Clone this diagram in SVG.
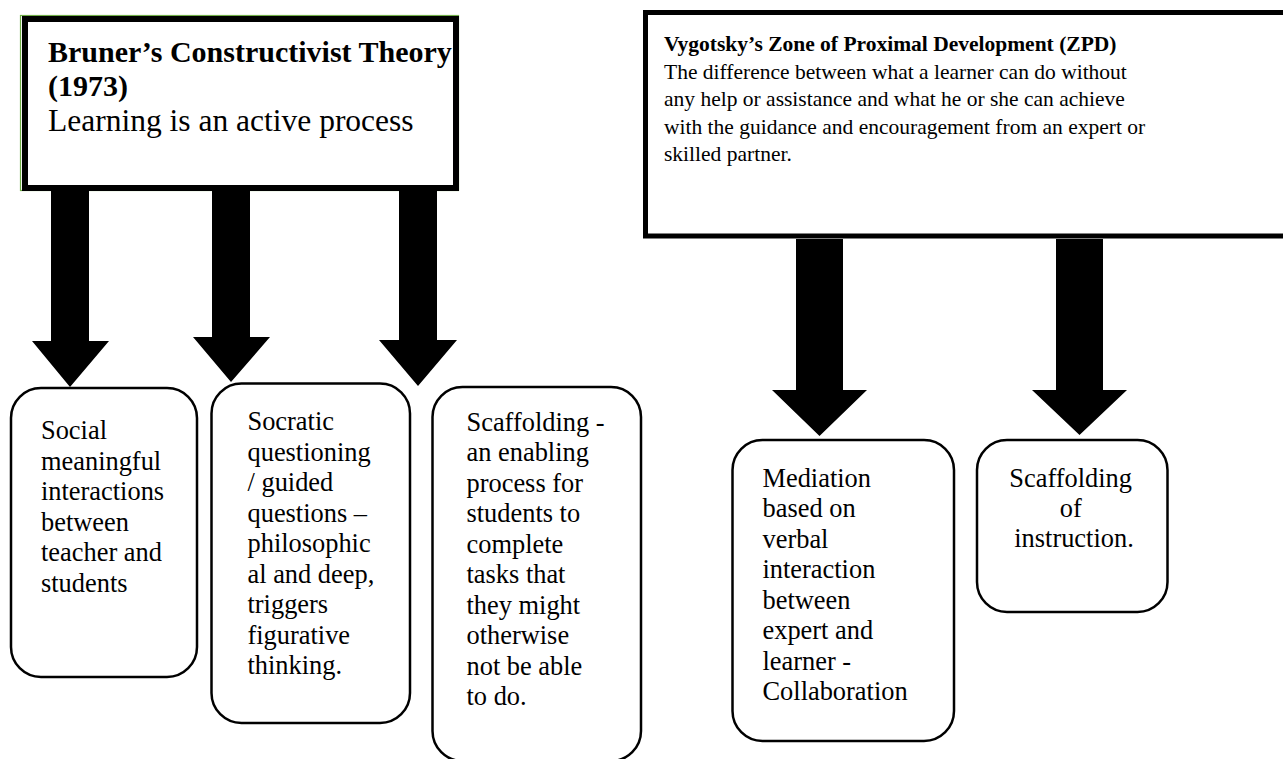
<svg xmlns="http://www.w3.org/2000/svg" width="1283" height="759" viewBox="0 0 1283 759">
<style>
  .t { font-family: "Liberation Serif", "Times New Roman", serif; fill: #000; }
  .b { font-weight: bold; }
  .box { fill: #fff; stroke: #000; stroke-width: 2.5; }
  .arrow { fill: #000; stroke: none; }
  .bx { font-size: 26.4px; }
</style>
<rect width="1283" height="759" fill="#fff"/>

<g id="bruner">
  <rect x="20.5" y="15.5" width="438" height="175" fill="#fff" stroke="#70ad47" stroke-width="1.2"/>
  <rect x="25" y="19" width="431" height="169" fill="none" stroke="#000" stroke-width="6"/>
  <text class="t b" font-size="30" x="48" y="62">Bruner’s Constructivist Theory</text>
  <text class="t b" font-size="30" x="48" y="96">(1973)</text>
  <text class="t" font-size="31.5" x="48" y="131">Learning is an active process</text>
</g>

<g id="vygotsky">
  <rect x="645.5" y="12.5" width="650" height="223.5" fill="#fff" stroke="#000" stroke-width="5"/>
  <text class="t b" font-size="21.5" x="664" y="51">Vygotsky’s Zone of Proximal Development (ZPD)</text>
  <text class="t" font-size="21.5" x="664">
    <tspan x="664" y="78.5">The difference between what a learner can do without</tspan>
    <tspan x="664" y="106">any help or assistance and what he or she can achieve</tspan>
    <tspan x="664" y="133.5">with the guidance and encouragement from an expert or</tspan>
    <tspan x="664" y="161">skilled partner.</tspan>
  </text>
</g>

<g id="connectors">
  <polygon class="arrow" points="51,191 89,191 89,341 109,341 70,387 32,341 51,341"/>
  <polygon class="arrow" points="212,190 250,190 250,337 270,337 231,382 193,337 212,337"/>
  <polygon class="arrow" points="399,190 437,190 437,340 457,340 418,386 379,340 399,340"/>
  <polygon class="arrow" points="796,239 843,239 843,390 867,390 819.5,436 772,390 796,390"/>
  <polygon class="arrow" points="1056,239 1103,239 1103,390 1127,390 1079.5,435 1032,390 1056,390"/>
</g>

<g id="box-social">
  <rect class="box" x="11" y="388" width="186" height="289" rx="30" ry="30"/>
  <text class="t bx">
    <tspan x="41" y="439">Social</tspan>
    <tspan x="41" y="469.5">meaningful</tspan>
    <tspan x="41" y="500">interactions</tspan>
    <tspan x="41" y="530.5">between</tspan>
    <tspan x="41" y="561">teacher and</tspan>
    <tspan x="41" y="591.5">students</tspan>
  </text>
</g>

<g id="box-socratic">
  <rect class="box" x="211.5" y="383.5" width="198.5" height="339.5" rx="30" ry="30"/>
  <text class="t bx">
    <tspan x="247.5" y="430">Socratic</tspan>
    <tspan x="247.5" y="460.5">questioning</tspan>
    <tspan x="247.5" y="491">/ guided</tspan>
    <tspan x="247.5" y="521.5">questions –</tspan>
    <tspan x="247.5" y="552">philosophic</tspan>
    <tspan x="247.5" y="582.5">al and deep,</tspan>
    <tspan x="247.5" y="613">triggers</tspan>
    <tspan x="247.5" y="643.5">figurative</tspan>
    <tspan x="247.5" y="674">thinking.</tspan>
  </text>
</g>

<g id="box-scaffolding">
  <rect class="box" x="432.5" y="387" width="208.5" height="374" rx="30" ry="30"/>
  <text class="t bx">
    <tspan x="466.5" y="430.5">Scaffolding -</tspan>
    <tspan x="466.5" y="461">an enabling</tspan>
    <tspan x="466.5" y="491.5">process for</tspan>
    <tspan x="466.5" y="522">students to</tspan>
    <tspan x="466.5" y="552.5">complete</tspan>
    <tspan x="466.5" y="583">tasks that</tspan>
    <tspan x="466.5" y="613.5">they might</tspan>
    <tspan x="466.5" y="644">otherwise</tspan>
    <tspan x="466.5" y="674.5">not be able</tspan>
    <tspan x="466.5" y="705">to do.</tspan>
  </text>
</g>

<g id="box-mediation">
  <rect class="box" x="732.5" y="440" width="221.5" height="301" rx="30" ry="30"/>
  <text class="t bx">
    <tspan x="762.5" y="486.5">Mediation</tspan>
    <tspan x="762.5" y="517">based on</tspan>
    <tspan x="762.5" y="547.5">verbal</tspan>
    <tspan x="762.5" y="578">interaction</tspan>
    <tspan x="762.5" y="608.5">between</tspan>
    <tspan x="762.5" y="639">expert and</tspan>
    <tspan x="762.5" y="669.5">learner -</tspan>
    <tspan x="762.5" y="700">Collaboration</tspan>
  </text>
</g>

<g id="box-scaffolding-instruction">
  <rect class="box" x="977" y="440" width="190.5" height="172" rx="30" ry="30"/>
  <text class="t bx" text-anchor="middle">
    <tspan x="1074" y="486.5">Scaffolding</tspan>
    <tspan x="1074" y="516.5">of</tspan>
    <tspan x="1074" y="546.5">instruction.</tspan>
  </text>
</g>
</svg>
